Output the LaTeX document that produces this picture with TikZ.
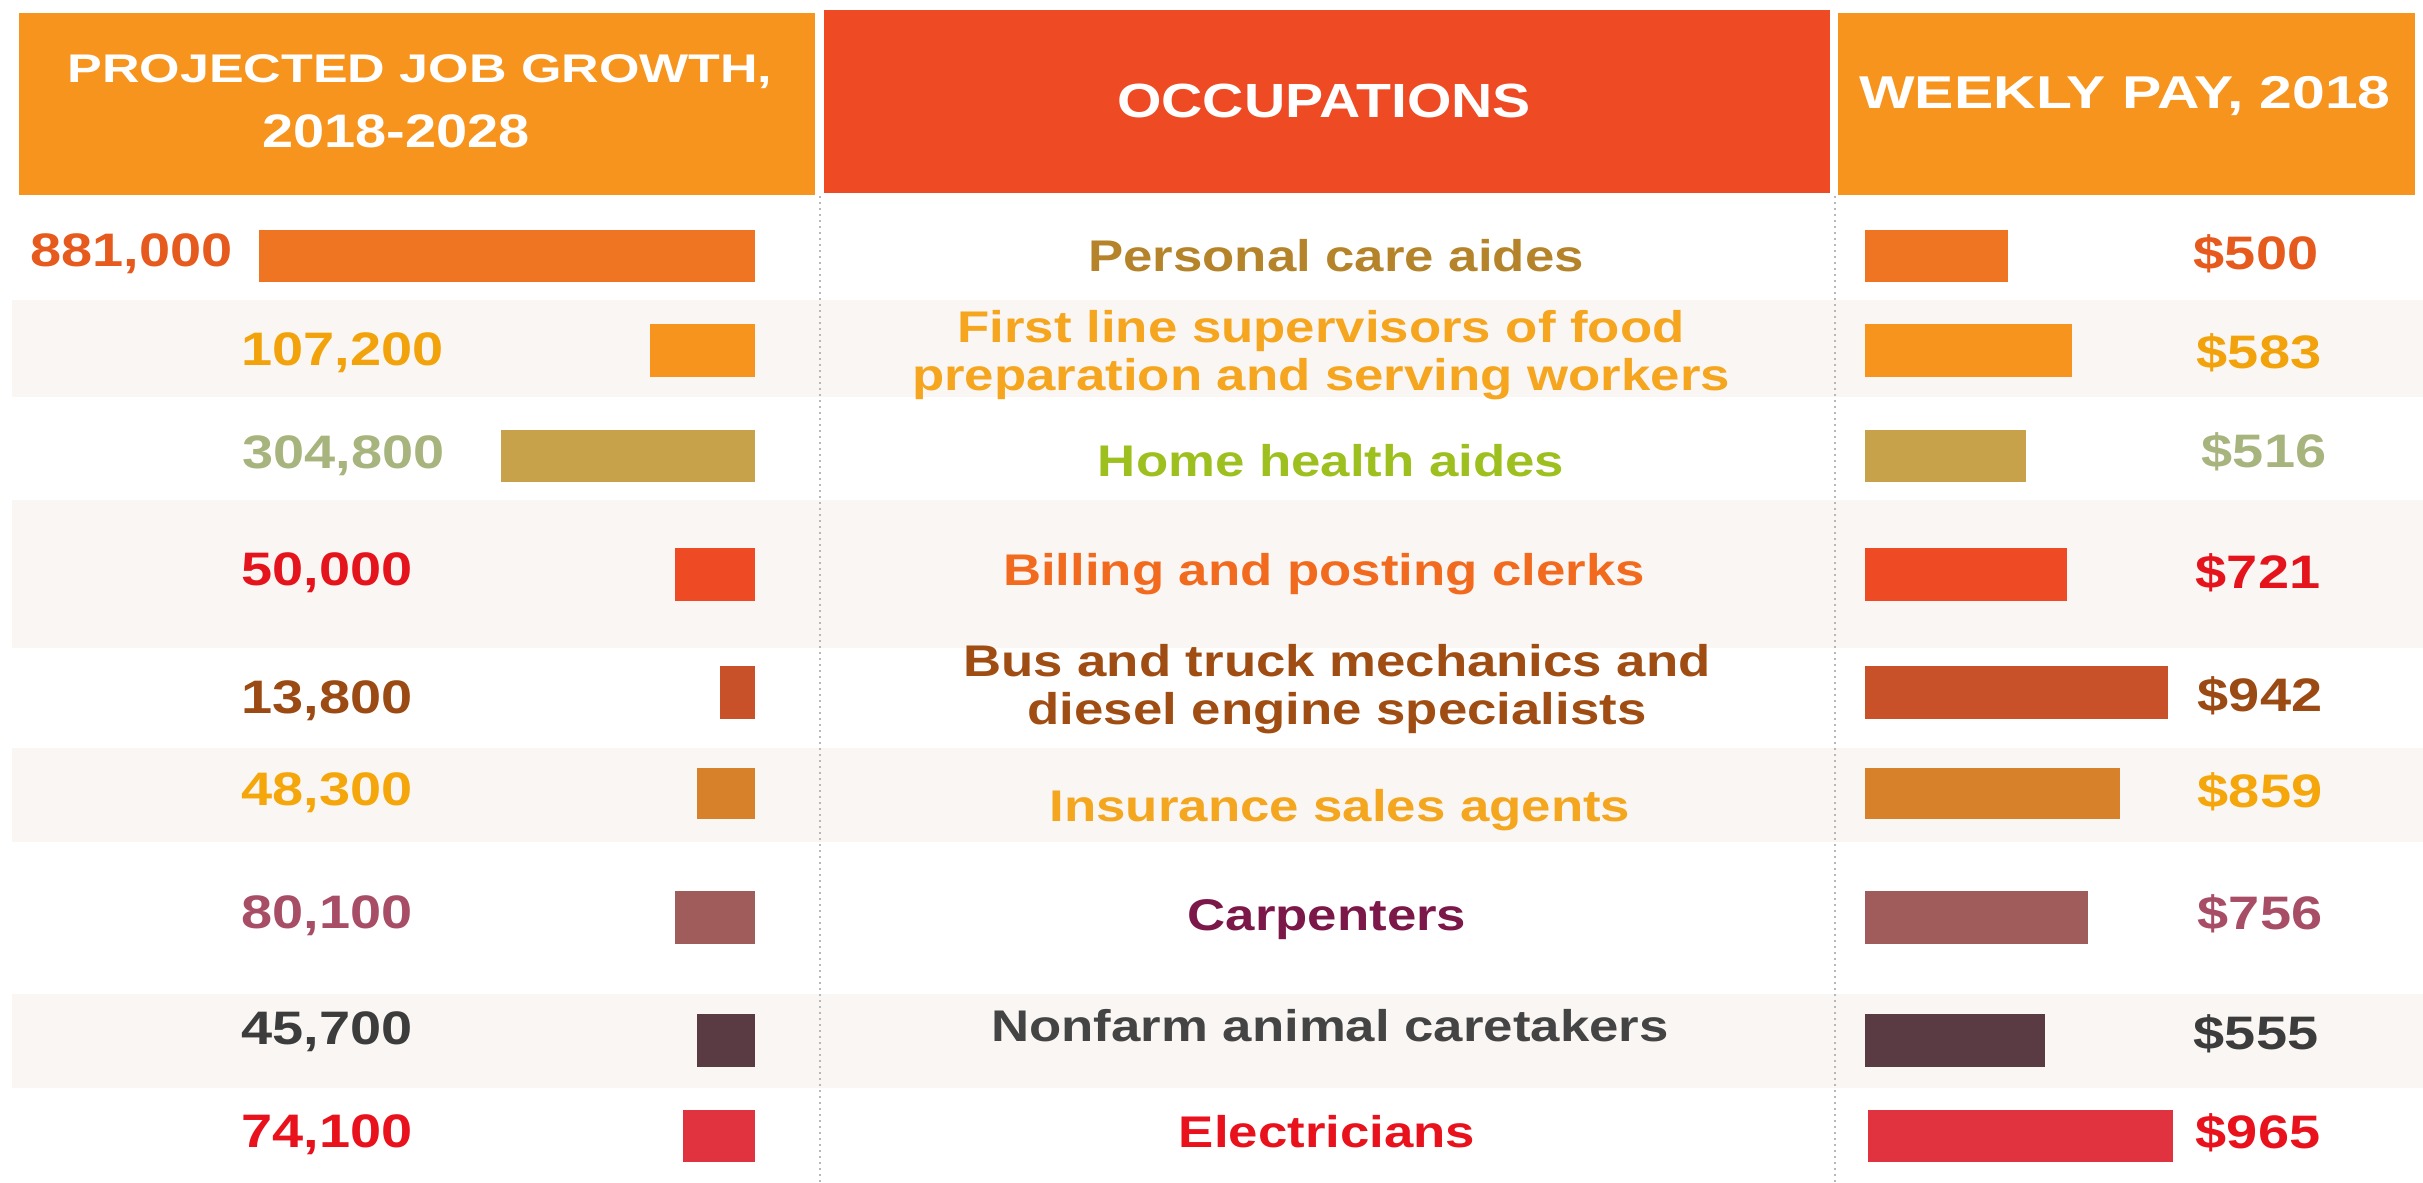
\documentclass[tikz,border=0pt]{standalone}
\usepackage{fontspec}
\setmainfont{Liberation Sans}[FakeStretch=1.19]
\newfontfamily\widefont{Liberation Sans}[FakeStretch=1.3]
\newfontfamily\midfont{Liberation Sans}[FakeStretch=1.28]
\definecolor{hdrorange}{HTML}{F7941E}
\definecolor{hdrred}{HTML}{EE4B24}
\definecolor{bandc}{HTML}{FAF6F4}
\definecolor{sepc}{HTML}{B8B8B8}
% row colours: bar (b), number text (t), occupation text (o)
\definecolor{b1}{HTML}{F07522}\definecolor{t1}{HTML}{E65A1E}\definecolor{o1}{HTML}{B5842A}
\definecolor{b2}{HTML}{F7941E}\definecolor{t2}{HTML}{F2A20A}\definecolor{o2}{HTML}{F5A51E}
\definecolor{b3}{HTML}{C8A24B}\definecolor{t3}{HTML}{A8B47D}\definecolor{o3}{HTML}{9DC01F}
\definecolor{b4}{HTML}{EE4B24}\definecolor{t4}{HTML}{E5141C}\definecolor{o4}{HTML}{F26A1E}
\definecolor{b5}{HTML}{C9512A}\definecolor{t5}{HTML}{9A4A12}\definecolor{o5}{HTML}{A04D14}
\definecolor{b6}{HTML}{D7822B}\definecolor{t6}{HTML}{F4A60A}\definecolor{o6}{HTML}{F4A61E}
\definecolor{b7}{HTML}{A05C5A}\definecolor{t7}{HTML}{A84D66}\definecolor{o7}{HTML}{7B1749}
\definecolor{b8}{HTML}{5A3B44}\definecolor{t8}{HTML}{3C3C3C}\definecolor{o8}{HTML}{444444}
\definecolor{b9}{HTML}{E0323F}\definecolor{t9}{HTML}{E8111C}\definecolor{o9}{HTML}{E8111C}
\tikzset{
  numtxt/.style={font=\bfseries\fontsize{14.1}{14.1}\selectfont, inner sep=0pt, anchor=base west},
  paytxt/.style={font=\bfseries\fontsize{14.1}{14.1}\selectfont, inner sep=0pt, anchor=base},
  occtxt/.style={font=\bfseries\fontsize{13.3}{14.4}\selectfont, inner sep=0pt, align=center},
  hdrtxt/.style={text=white, inner sep=0pt, anchor=base},
  sepline/.style={draw=sepc, line width=0.6pt, dash pattern=on 0.6pt off 1.2pt},
}
\begin{document}
\begin{tikzpicture}[x=0.3pt,y=-0.3pt]
\useasboundingbox (0,0) rectangle (2423,1182);
\fill[white] (0,0) rectangle (2423,1182);
% shaded bands
\fill[bandc] (12,300) rectangle (2423,397);
\fill[bandc] (12,500) rectangle (2423,648);
\fill[bandc] (12,748) rectangle (2423,842);
\fill[bandc] (12,994) rectangle (2423,1088);
% headers
\fill[hdrorange] (19,13) rectangle (815,195);
\fill[hdrred] (824,10) rectangle (1830,193);
\fill[hdrorange] (1838,13) rectangle (2415,195);
\node[hdrtxt, font=\widefont\bfseries\fontsize{12}{12}\selectfont] (h1a) at (420,82) {PROJECTED JOB GROWTH,};
\node[hdrtxt, font=\bfseries\fontsize{14.1}{14.1}\selectfont] (h1b) at (396,147) {2018-2028};
\node[hdrtxt, font=\bfseries\fontsize{14.4}{14.4}\selectfont] (h2) at (1324,117) {OCCUPATIONS};
\node[hdrtxt, font=\midfont\bfseries\fontsize{13.8}{13.8}\selectfont] (h3) at (2125,108) {WEEKLY PAY, 2018};
% dotted separators
\coordinate (s1t) at (820,196); \coordinate (s1b) at (820,1182);
\coordinate (s2t) at (1835,196); \coordinate (s2b) at (1835,1182);
\draw[sepline] (s1t) -- (s1b);
\draw[sepline] (s2t) -- (s2b);
% left bars
\fill[b1] (259,230) rectangle (755,282);
\fill[b2] (650,324) rectangle (755,377);
\fill[b3] (501,430) rectangle (755,482);
\fill[b4] (675,548) rectangle (755,601);
\fill[b5] (720,666) rectangle (755,719);
\fill[b6] (697,768) rectangle (755,819);
\fill[b7] (675,891) rectangle (755,944);
\fill[b8] (697,1014) rectangle (755,1067);
\fill[b9] (683,1110) rectangle (755,1162);
% right bars
\fill[b1] (1865,230) rectangle (2008,282);
\fill[b2] (1865,324) rectangle (2072,377);
\fill[b3] (1865,430) rectangle (2026,482);
\fill[b4] (1865,548) rectangle (2067,601);
\fill[b5] (1865,666) rectangle (2168,719);
\fill[b6] (1865,768) rectangle (2120,819);
\fill[b7] (1865,891) rectangle (2088,944);
\fill[b8] (1865,1014) rectangle (2045,1067);
\fill[b9] (1868,1110) rectangle (2173,1162);
% left numbers
\node[numtxt, text=t1] (n1) at (30,266) {881,000};
\node[numtxt, text=t2] (n2) at (241,365) {107,200};
\node[numtxt, text=t3] (n3) at (242,468) {304,800};
\node[numtxt, text=t4] (n4) at (241,585) {50,000};
\node[numtxt, text=t5] (n5) at (241,713) {13,800};
\node[numtxt, text=t6] (n6) at (241,805) {48,300};
\node[numtxt, text=t7] (n7) at (241,928) {80,100};
\node[numtxt, text=t8] (n8) at (241,1044) {45,700};
\node[numtxt, text=t9] (n9) at (241,1147) {74,100};
% occupations
\node[occtxt, text=o1, anchor=base] (o1) at (1336,271) {Personal care aides};
\node[occtxt, text=o2] (o2) at (1321,355) {First line supervisors of food\\preparation and serving workers};
\node[occtxt, text=o3, anchor=base] (o3) at (1331,476) {Home health aides};
\node[occtxt, text=o4, anchor=base] (o4) at (1324,585) {Billing and posting clerks};
\node[occtxt, text=o5] (o5) at (1337,689) {Bus and truck mechanics and\\diesel engine specialists};
\node[occtxt, text=o6, anchor=base] (o6) at (1340,821) {Insurance sales agents};
\node[occtxt, text=o7, anchor=base] (o7) at (1327,930) {Carpenters};
\node[occtxt, text=o8, anchor=base] (o8) at (1330,1041) {Nonfarm animal caretakers};
\node[occtxt, text=o9, anchor=base] (o9) at (1327,1147) {Electricians};
% weekly pay
\node[paytxt, text=t1] (p1) at (2256,269) {\$500};
\node[paytxt, text=t2] (p2) at (2259,368) {\$583};
\node[paytxt, text=t3] (p3) at (2264,467) {\$516};
\node[paytxt, text=t4] (p4) at (2258,588) {\$721};
\node[paytxt, text=t5] (p5) at (2260,711) {\$942};
\node[paytxt, text=t6] (p6) at (2260,807) {\$859};
\node[paytxt, text=t7] (p7) at (2260,929) {\$756};
\node[paytxt, text=t8] (p8) at (2256,1049) {\$555};
\node[paytxt, text=t9] (p9) at (2258,1148) {\$965};
\end{tikzpicture}
\end{document}
